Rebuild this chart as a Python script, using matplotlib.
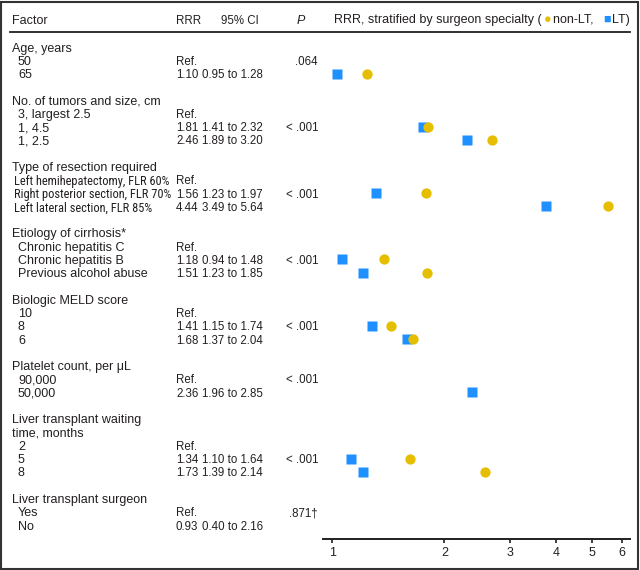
"""Forest-style table: relative risk ratios, stratified by surgeon specialty"""
import matplotlib.pyplot as plt
import matplotlib.transforms as mtransforms
from matplotlib import font_manager
from matplotlib.lines import Line2D
from matplotlib.patches import Rectangle
from matplotlib.ticker import FixedLocator, FixedFormatter, NullLocator
from matplotlib.offsetbox import TextArea, HPacker, AnchoredOffsetbox

plt.rcParams['font.family'] = ['Liberation Sans', 'DejaVu Sans']

# table rows, top to bottom; "" is a spacer row
factors = ["Age, years", "50", "65", "",
           "No. of tumors and size, cm", "3, largest 2.5", "1, 4.5", "1, 2.5", "",
           "Type of resection required", "Left hemihepatectomy, FLR 60%",
           "Right posterior section, FLR 70%", "Left lateral section, FLR 85%", "",
           "Etiology of cirrhosis*", "Chronic hepatitis C", "Chronic hepatitis B",
           "Previous alcohol abuse", "",
           "Biologic MELD score", "10", "8", "6", "",
           "Platelet count, per μL", "90,000", "50,000", "",
           "Liver transplant waiting", "time, months", "2", "5", "8", "",
           "Liver transplant surgeon", "Yes", "No"]
# h = group heading, s = sub row, n = sub row in narrow type
row_kind = ["h", "s", "s", "",
            "h", "s", "s", "s", "",
            "h", "n", "n", "n", "",
            "h", "s", "s", "s", "",
            "h", "s", "s", "s", "",
            "h", "s", "s", "",
            "h", "h", "s", "s", "s", "",
            "h", "s", "s"]
rrr = [None, "Ref.", "1.10", None,
       None, "Ref.", "1.81", "2.46", None,
       None, "Ref.", "1.56", "4.44", None,
       None, "Ref.", "1.18", "1.51", None,
       None, "Ref.", "1.41", "1.68", None,
       None, "Ref.", "2.36", None,
       None, None, "Ref.", "1.34", "1.73", None,
       None, "Ref.", "0.93"]
ci = [None, None, "0.95 to 1.28", None,
      None, None, "1.41 to 2.32", "1.89 to 3.20", None,
      None, None, "1.23 to 1.97", "3.49 to 5.64", None,
      None, None, "0.94 to 1.48", "1.23 to 1.85", None,
      None, None, "1.15 to 1.74", "1.37 to 2.04", None,
      None, None, "1.96 to 2.85", None,
      None, None, None, "1.10 to 1.64", "1.39 to 2.14", None,
      None, None, "0.40 to 2.16"]
p_values = [None, ".064", None, None,
            None, None, "< .001", None, None,
            None, None, "< .001", None, None,
            None, None, "< .001", None, None,
            None, None, "< .001", None, None,
            None, "< .001", None, None,
            None, None, None, "< .001", None, None,
            None, ".871\u2020", None]
# RRR stratified by surgeon specialty
non_lt = [None, None, 1.24, None,
          None, None, 1.81, 2.69, None,
          None, None, 1.78, 5.50, None,
          None, None, 1.38, 1.80, None,
          None, None, 1.44, 1.65, None,
          None, None, None, None,
          None, None, None, 1.62, 2.58, None,
          None, None, None]
lt = [None, None, 1.03, None,
      None, None, 1.75, 2.30, None,
      None, None, 1.31, 3.75, None,
      None, None, 1.06, 1.21, None,
      None, None, 1.28, 1.59, None,
      None, None, 2.38, None,
      None, None, None, 1.12, 1.21, None,
      None, None, None]
ticks = [1, 2, 3, 4, 5, 6]

W, H = 640, 570
ink = '#231f20'
yellow = '#e6be00'
blue = '#1e90ff'
fs = 9
fs_num = 8.3

# narrow face for the resection rows, if one is installed
installed = {f.name for f in font_manager.fontManager.ttflist}
if 'Liberation Sans Narrow' in installed:
    narrow = dict(family='Liberation Sans Narrow', fontsize=8.9)
elif 'Roboto Condensed' in installed:
    narrow = dict(family='Roboto Condensed', fontsize=8.9)
else:
    narrow = dict(family='Liberation Sans', fontsize=7.5)

fig = plt.figure(figsize=(W / 100, H / 100), dpi=100)
ax = fig.add_axes([322.7 / W, 31 / H, (630 - 322.7) / W, (539 - 31) / H])

# markers: squares first, circles drawn over them
lt_y = [i for i, v in enumerate(lt) if v is not None]
ax.plot([lt[i] for i in lt_y], lt_y, 's', ms=6.6, color=blue, mec='none', ls='none')
nl_y = [i for i, v in enumerate(non_lt) if v is not None]
ax.plot([non_lt[i] for i in nl_y], nl_y, 'o', ms=7.4, color=yellow, mec='none', ls='none')

ax.set_xscale('log')
ax.set_xlim(0.942, 6.31)
ax.set_ylim(37.05, -1.205)
ax.xaxis.set_major_locator(FixedLocator(ticks))
ax.xaxis.set_major_formatter(FixedFormatter([str(t) for t in ticks]))
ax.xaxis.set_minor_locator(NullLocator())
ax.set_yticks([])
for side in ['top', 'left', 'right']:
    ax.spines[side].set_visible(False)
ax.spines['bottom'].set_linewidth(1.4)
ax.spines['bottom'].set_color(ink)
ax.tick_params(axis='x', length=3, width=1.2, color=ink, labelsize=fs, labelcolor=ink, pad=3)

# table text, rows share the dot-plot's y scale
tr = mtransforms.blended_transform_factory(fig.transFigure, ax.transData)
va = 'center_baseline'
for r, label in enumerate(factors):
    kind = row_kind[r]
    if kind == "h":
        ax.text(12 / W, r, label, transform=tr, va=va, fontsize=fs, color=ink)
    elif kind == "s":
        ax.text(18 / W, r, label, transform=tr, va=va, fontsize=fs, color=ink)
    elif kind == "n":
        ax.text(14 / W, r, label, transform=tr, va=va, color=ink, **narrow)
    if rrr[r]:
        ax.text(176 / W, r, rrr[r], transform=tr, va=va, fontsize=fs_num, color=ink)
    if ci[r]:
        ax.text(202 / W, r, ci[r], transform=tr, va=va, fontsize=fs_num, color=ink)
    if p_values[r]:
        ax.text(318 / W, r, p_values[r], transform=tr, va=va, ha='right', fontsize=fs_num, color=ink)

# column headings
hy = 1 - 20 / H
fig.text(12 / W, hy, "Factor", va=va, fontsize=fs, color=ink)
fig.text(176 / W, hy, "RRR", va=va, fontsize=fs_num, color=ink)
fig.text(221 / W, hy, "95% CI", va=va, fontsize=fs_num, color=ink)
fig.text(297 / W, hy, "P", va=va, fontsize=fs, color=ink, style='italic')

tp = dict(fontsize=fs, color=ink)
legend_box = HPacker(children=[TextArea("RRR, stratified by surgeon specialty (", textprops=tp),
                               TextArea("\u25cf", textprops=dict(fontsize=fs, color=yellow)),
                               TextArea("non-LT,  ", textprops=tp),
                               TextArea("\u25a0", textprops=dict(fontsize=fs, color=blue)),
                               TextArea("LT)", textprops=tp)],
                     sep=1.5, pad=0, align='baseline')
fig.add_artist(AnchoredOffsetbox(loc='center left', child=legend_box, pad=0, borderpad=0,
                                 frameon=False, bbox_to_anchor=(334 / W, hy),
                                 bbox_transform=fig.transFigure))

fig.add_artist(Line2D([10 / W, 630 / W], [1 - 31.5 / H] * 2, transform=fig.transFigure,
                      color=ink, lw=1.3))
fig.add_artist(Rectangle((1 / W, 1.5 / H), 637 / W, 566.5 / H, transform=fig.transFigure,
                         fill=False, ec='#333333', lw=1.5))

fig.savefig("out.png", dpi=100)
